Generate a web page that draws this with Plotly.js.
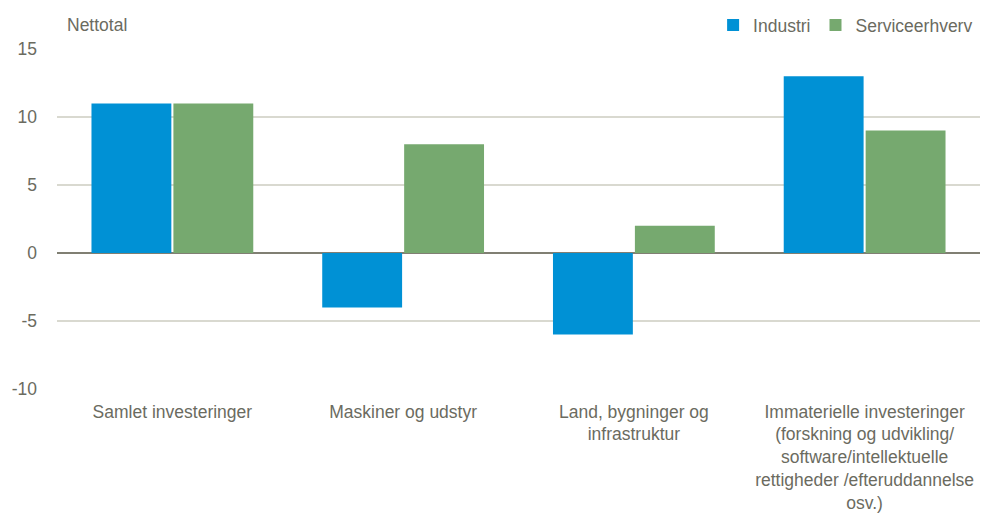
<!DOCTYPE html>
<html><head><meta charset="utf-8">
<script src="https://cdn.plot.ly/plotly-3.0.1.min.js"></script>
<style>html,body{margin:0;padding:0;background:#fff}#chart{width:985px;height:523px}</style>
</head><body><div id="chart"></div>
<script>
const categories = [
  "Samlet investeringer",
  "Maskiner og udstyr",
  "Land, bygninger og<br>infrastruktur",
  "Immaterielle investeringer<br>(forskning og udvikling/<br>software/intellektuelle<br>rettigheder /efteruddannelse<br>osv.)"
];
const industri = [11, -4, -6, 13];
const service = [11, 8, 2, 9];
const seriesNames = ["Industri", "Serviceerhverv"];
const yTicks = [-10, -5, 0, 5, 10, 15];
const yTickText = ["-10", "-5", "0", "5", "10", "15"];

const font = "'Liberation Sans Narrow', 'Arial Narrow', 'Liberation Sans', Arial, sans-serif";
const textColor = "#6b6b5f";

const data = [
  {type: "bar", name: seriesNames[0], x: categories, y: industri, marker: {color: "#0091d5"}},
  {type: "bar", name: seriesNames[1], x: categories, y: service, marker: {color: "#76a96f"}}
];
const layout = {
  width: 985, height: 523,
  margin: {l: 57, r: 5, t: 49, b: 134},
  paper_bgcolor: "#fff", plot_bgcolor: "#fff",
  font: {family: font, size: 17.5, color: textColor},
  barmode: "group", bargap: 0.29, bargroupgap: 0.025,
  showlegend: true,
  legend: {orientation: "h", x: 0.993, xanchor: "right", xref: "container", yref: "container", y: 0.952, yanchor: "middle",
           font: {family: font, size: 17.5, color: textColor}, traceorder: "normal"},
  xaxis: {showgrid: false, showline: false, ticks: "", tickfont: {size: 17.5}, automargin: false, ticklabelstandoff: 10},
  yaxis: {range: [-10, 15], tickvals: yTicks, ticktext: yTickText, showgrid: true, gridcolor: "#d9d9d0", gridwidth: 1.5,
          zeroline: true, zerolinecolor: "#807f73", zerolinewidth: 1.2,
          ticks: "", ticklen: 0, tickfont: {size: 17.5}, automargin: false, ticklabelstandoff: 19},
  annotations: [{text: "Nettotal", xref: "paper", yref: "paper", x: 0.009, y: 1.0706, xanchor: "left", yanchor: "middle",
                 showarrow: false, font: {family: font, size: 17.5, color: textColor}}]
};
Plotly.newPlot("chart", data, layout, {displayModeBar: false, staticPlot: true});
</script></body></html>
